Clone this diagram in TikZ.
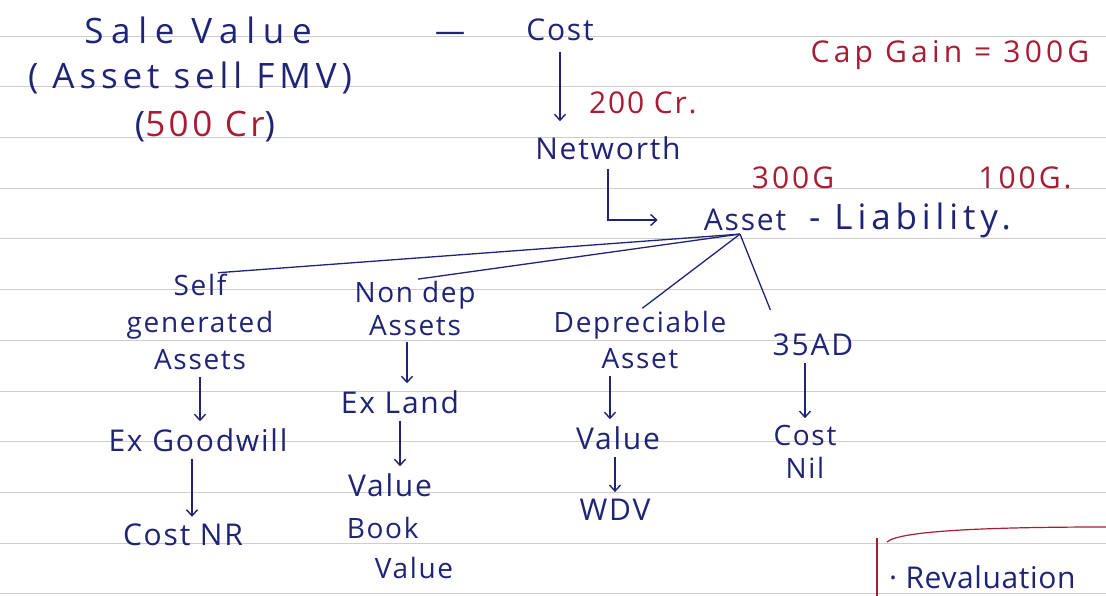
\documentclass[tikz,border=0pt]{standalone}
\usepackage{fontspec}
\setmainfont{Open Sans}[LetterSpace=6]
\usetikzlibrary{arrows.meta, positioning, calc}
\definecolor{inkblue}{RGB}{32,36,118}
\definecolor{inkred}{RGB}{168,28,52}
\definecolor{ruleline}{RGB}{205,205,205}
\begin{document}
\begin{tikzpicture}[x=1pt, y=-1pt,
    hand/.style={text=inkblue, font=\fontsize{30}{36}\selectfont, inner sep=1pt, align=center},
    bighand/.style={hand, font={\fontsize{35}{40}\selectfont\addfontfeature{LetterSpace=#1}}},
    redhand/.style={hand, text=inkred, font={\fontsize{30}{34}\selectfont\addfontfeature{LetterSpace=#1}}},
    redhand/.default=6,
    down/.style={draw=inkblue, line width=1.4pt, -{Straight Barb[length=6pt, width=11pt]}, shorten <=6pt, shorten >=6pt},
    branch/.style={draw=inkblue, line width=1.3pt, shorten >=3pt}]
  \useasboundingbox[fill=white] (0,0) rectangle (1106,596);
  \foreach \k in {0,...,11}
    \draw[ruleline, line width=0.7pt] (0,36+50.7*\k) -- (1106,36+50.7*\k);
  \node[bighand=22] (sale) at (198,30) {Sale Value};
  \node[bighand=14] (fmv) at (190,78) {( Asset sell FMV)};
  \node[bighand=10] (amt) at (205,127) {(\textcolor{inkred}{500 Cr})};
  \node[hand] (minus) at (450,37) {---};
  \node[hand] (cost) at (560,30) {Cost};
  \node[redhand=14] (gain) at (950,55) {Cap Gain = 300G};
  \node[hand] (nw) at (608,148) {Networth};
  \node[redhand, anchor=west] (twoh) at (588,103) {200 Cr.};
  \draw[down, shorten <=10pt, shorten >=14pt] (cost.south) -- (cost.south |- nw.north);
  \node[hand] (asset) at (745,220) {Asset};
  \node[bighand=14, anchor=west] (liab) at (808,220) {- Liability.};
  \node[redhand=10] (threeh) at (793,178) {300G};
  \node[redhand=10] (oneh) at (1025,178) {100G.};
  \draw[inkblue, line width=1.4pt, -{Straight Barb[length=6pt, width=11pt]}]
    ([yshift=-8pt]nw.south) |- ([xshift=-45pt]asset.west);
  \coordinate (apex) at ([xshift=-5pt,yshift=-2pt]asset.south);
  \node[hand, font=\fontsize{28}{37}\selectfont] (selfg) at (200,322) {Self\\generated\\Assets};
  \node[hand] (goodwill) at (198,440) {Ex Goodwill};
  \node[hand] (costnr) at (183,535) {Cost NR};
  \node[hand, font=\fontsize{28}{33}\selectfont] (nondep) at (415,308) {Non dep\\Assets};
  \node[hand] (exland) at (400,402) {Ex Land};
  \node[hand] (nval) at (390,485) {Value};
  \node[hand, align=left, font=\fontsize{28}{40}\selectfont] (book) at (400,548) {Book\\\quad Value};
  \node[hand, font=\fontsize{28}{36}\selectfont] (dep) at (640,340) {Depreciable\\Asset};
  \node[hand] (dval) at (618,438) {Value};
  \node[hand] (wdv) at (615,510) {WDV};
  \node[hand] (ad) at (813,345) {35AD};
  \node[hand, font=\fontsize{28}{33}\selectfont] (nil) at (805,452) {Cost\\Nil};
  \draw[branch] (apex) -- ([xshift=15pt]selfg.north);
  \draw[branch] (apex) -- (nondep.north);
  \draw[branch] (apex) -- (dep.north);
  \draw[branch] (apex) -- ([yshift=20pt]ad.north west);
  \draw[down] (selfg.south) -- (selfg.south |- goodwill.north);
  \draw[down] ([xshift=-6pt]goodwill.south) -- ([xshift=-6pt]goodwill.south |- costnr.north);
  \draw[down] ([xshift=-8pt]nondep.south) -- ([xshift=-8pt]nondep.south |- exland.north);
  \draw[down] (exland.south) -- (exland.south |- nval.north);
  \draw[down] ([xshift=-30pt]dep.south) -- ([xshift=-30pt]dep.south |- dval.north);
  \draw[down] (wdv.north |- dval.south) -- (wdv.north);
  \draw[down] ([xshift=-8pt]ad.south) -- ([xshift=-8pt]ad.south |- nil.north);
  \draw[inkred, line width=1.2pt] (877,596) -- (877,538);
  \draw[inkred, line width=1.2pt] (887,542) .. controls (900,530) and (1000,527) .. (1106,527);
  \node[hand, anchor=west, font={\fontsize{30}{34}\selectfont\addfontfeature{LetterSpace=2}}] (reval) at (888,577) {· Revaluation};
\end{tikzpicture}
\end{document}
